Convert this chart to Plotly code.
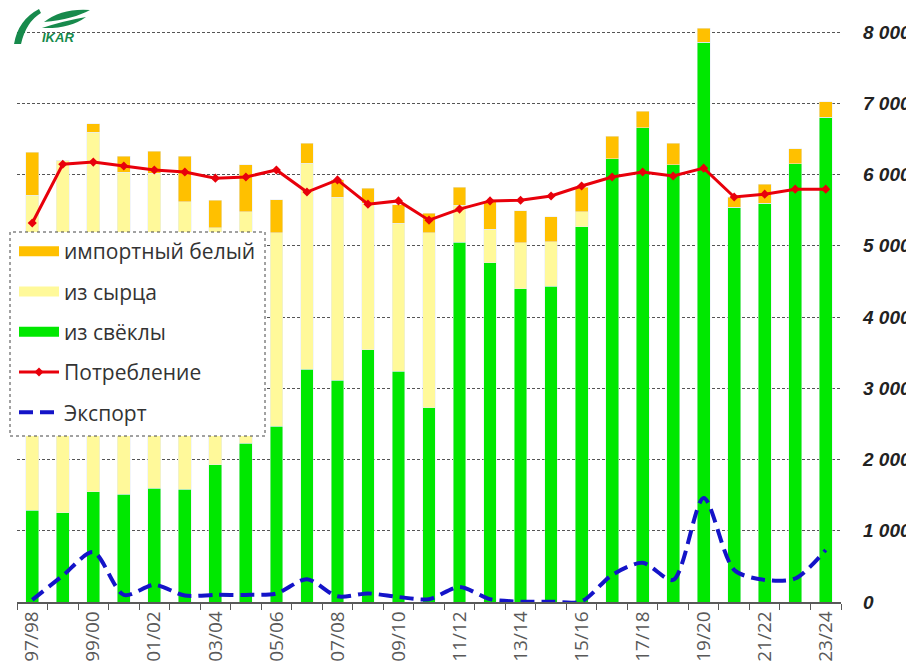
import plotly.graph_objects as go

# ---------------- data ----------------
seasons = ["1997/98", "1998/99", "1999/00", "2000/01", "2001/02", "2002/03", "2003/04",
           "2004/05", "2005/06", "2006/07", "2007/08", "2008/09", "2009/10", "2010/11",
           "2011/12", "2012/13", "2013/14", "2014/15", "2015/16", "2016/17", "2017/18",
           "2018/19", "2019/20", "2020/21", "2021/22", "2022/23", "2023/24"]

from_beet = [1290, 1250, 1545, 1515, 1600, 1585, 1925, 2230, 2470, 3270, 3115, 3540, 3240, 2725,
             5050, 4760, 4395, 4435, 5265, 6220, 6655, 6135, 7860, 5540, 5600, 6150, 6805]
from_raw = [4420, 4950, 5050, 4520, 4420, 4030, 3325, 3245, 2710, 2890, 2570, 2060, 2080, 2455,
            520, 475, 645, 620, 210, 0, 0, 0, 0, 0, 0, 0, 0]
imported_white = [600, 0, 115, 225, 310, 645, 390, 660, 465, 280, 240, 210, 255, 280,
                  255, 380, 450, 350, 350, 320, 235, 305, 195, 145, 265, 210, 215]
consumption = [5320, 6145, 6175, 6120, 6065, 6035, 5950, 5965, 6065, 5755, 5925, 5585, 5630, 5360,
               5515, 5630, 5640, 5700, 5840, 5965, 6035, 5980, 6090, 5685, 5725, 5795, 5795]
export = [30, 370, 700, 100, 240, 90, 100, 100, 120, 320, 80, 120, 70, 40,
          210, 40, 5, 5, 10, 380, 550, 310, 1460, 450, 310, 330, 730]

# every other season is labelled, shown in short form
tick_text = [s[2:] if i % 2 == 0 else "" for i, s in enumerate(seasons)]

names = ["импортный белый", "из сырца", "из свёклы", "Потребление", "Экспорт"]

# ---------------- styles ----------------
C_IMP = "#FFC000"
C_RAW = "#FFF99A"
C_BEET = "#00E800"
C_CONS = "#E8000B"
C_EXP = "#1414C8"
FONT = "Open Sans"

W, H = 914, 668
OFF = 8  # page body margin in the browser
L, R, T, B = 17 - OFF, 841 - OFF, 10 - OFF, 602 - OFF


def px_x(p):
    return (p - OFF - L) / (R - L)


def px_y(p):
    return (B - (p - OFF)) / (B - T)


def path(points):
    s = ""
    for cmd, pts in points:
        s += cmd + " ".join(f"{px_x(x):.4f},{px_y(y):.4f}" for x, y in pts) + " "
    return s + "Z"


fig = go.Figure()

fig.add_trace(go.Bar(x=seasons, y=from_beet, marker_color=C_BEET, showlegend=False, name=names[2]))
fig.add_trace(go.Bar(x=seasons, y=from_raw, marker_color=C_RAW, showlegend=False, name=names[1]))
fig.add_trace(go.Bar(x=seasons, y=imported_white, marker_color=C_IMP, showlegend=False, name=names[0]))

# legend proxies for bar series (wide rectangles)
for nm, col in [(names[0], C_IMP), (names[1], C_RAW), (names[2], C_BEET)]:
    fig.add_trace(go.Scatter(x=[None], y=[None], mode="lines", name=nm,
                             line=dict(color=col, width=13), legendgroup=nm))

fig.add_trace(go.Scatter(x=seasons, y=consumption, mode="lines+markers", name=names[3],
                         line=dict(color=C_CONS, width=3),
                         marker=dict(symbol="diamond", size=7, color=C_CONS),
                         legendgroup=names[3]))
fig.add_trace(go.Scatter(x=seasons, y=export, mode="lines", name=names[4],
                         line=dict(color=C_EXP, width=4, dash="14px,7px", shape="spline",
                                   smoothing=0.8),
                         legendgroup=names[4]))

shapes = [
    # white patch behind logo
    dict(type="rect", xref="paper", yref="paper", x0=px_x(0), x1=px_x(103),
         y0=px_y(50), y1=px_y(0), fillcolor="white", line=dict(width=0), layer="below"),
    # legend box
    dict(type="rect", xref="paper", yref="paper", x0=px_x(10), x1=px_x(265),
         y0=px_y(436), y1=px_y(232), fillcolor="white",
         line=dict(color="#444444", width=1, dash="dot"), layer="above"),
    # logo strokes
    dict(type="path", xref="paper", yref="paper", layer="above", line=dict(width=0),
         fillcolor="#178A4C",
         path=path([("M", [(14, 44)]), ("Q", [(18, 20), (39, 9)]), ("L", [(41, 13)]),
                    ("Q", [(26, 22), (21, 44)])])),
    dict(type="path", xref="paper", yref="paper", layer="above", line=dict(width=0),
         fillcolor="#178A4C",
         path=path([("M", [(44, 22)]), ("Q", [(62, 8), (90, 10)]), ("Q", [(74, 19), (44, 22)])])),
    dict(type="path", xref="paper", yref="paper", layer="above", line=dict(width=0),
         fillcolor="#178A4C",
         path=path([("M", [(42, 28)]), ("Q", [(63, 21), (86, 17)]), ("Q", [(70, 29), (42, 28)])])),
]

fig.update_layout(
    width=W, height=H, autosize=False,
    margin=dict(l=L, r=W - R, t=T, b=H - B, autoexpand=False),
    paper_bgcolor="white", plot_bgcolor="white",
    barmode="stack", bargap=0.58,
    separators=". ",
    font=dict(family=FONT, color="#333333"),
    showlegend=True,
    legend=dict(x=px_x(14), y=px_y(231), xanchor="left", yanchor="top",
                bgcolor="rgba(0,0,0,0)", borderwidth=0,
                font=dict(family=FONT, size=21, color="#333333"),
                tracegroupgap=10, traceorder="grouped", itemwidth=40),
    shapes=shapes,
    annotations=[dict(text="<b><i>IKAR</i></b>", xref="paper", yref="paper",
                      x=px_x(40), y=px_y(38), xanchor="left", yanchor="middle",
                      showarrow=False, font=dict(family="Liberation Sans", size=13, color="#178A4C"))],
)

fig.update_xaxes(type="category", tickmode="array", tickvals=seasons, ticktext=tick_text,
                 tickson="boundaries", ticks="outside", ticklen=6, tickcolor="#595959",
                 showline=True, linecolor="#595959", linewidth=1.5, showgrid=False,
                 tickangle=-90, tickfont=dict(family=FONT, size=19, color="#595959"),
                 automargin=False, range=[-0.5, len(seasons) - 0.5])

fig.update_yaxes(side="right", range=[0, 8310], tickmode="linear", tick0=0, dtick=1000,
                 tickformat=",d", showgrid=True, gridcolor="#555555", gridwidth=1,
                 griddash="3px,2px", zeroline=False, showline=False, ticks="",
                 ticklabelstandoff=21, automargin=False,
                 tickfont=dict(family="Liberation Sans", size=19, color="#222222",
                               weight="bold", style="italic"))

fig.write_html("out.html")
